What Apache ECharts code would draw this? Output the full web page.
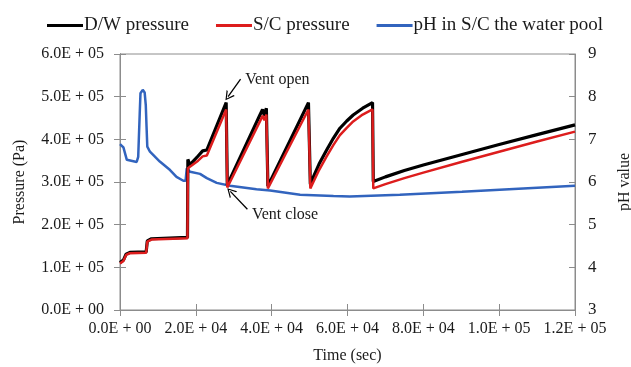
<!DOCTYPE html>
<html>
<head>
<meta charset="utf-8">
<script src="https://cdn.jsdelivr.net/npm/echarts@6/dist/echarts.min.js"></script>
<style>
  html, body { margin: 0; padding: 0; background: #fff; }
  #chart { width: 631px; height: 367px; }
</style>
</head>
<body>
<div id="chart"></div>
<script>
// D/W pressure (Pa) vs time (sec)
var dwTime = [0, 900, 1600, 2600, 6900, 7200, 8300, 17800, 17900, 18400, 20600, 21800, 22900, 28000,
  28300, 36900, 37600, 38100, 38600, 39000, 49700, 50200, 51000, 52500, 54500, 56300, 58000, 59800, 61500, 64000, 66600,
  66800, 70000, 75000, 80000, 90000, 100000, 110000, 120000];
var dwPressure = [111000, 117000, 131000, 135000, 136000, 162000, 167000, 170000, 353000, 340000, 361000, 373000, 375000, 486000,
  293000, 457000, 470000, 455000, 473000, 290000, 486000, 295000, 312000, 342000, 375000, 403000, 426000, 443000, 457000, 473000, 486000,
  301000, 312000, 327000, 340000, 364000, 388000, 411000, 434000];

// S/C pressure (Pa) vs time (sec)
var scTime = [0, 900, 1600, 2600, 6900, 7200, 8300, 17800, 17900, 20600, 21800, 22900, 28000,
  28300, 36900, 37600, 38100, 38600, 39000, 49700, 50200, 51000, 52500, 54500, 56300, 58000, 59800, 61500, 64000, 66600,
  66800, 70000, 75000, 80000, 90000, 100000, 110000, 120000];
var scPressure = [109000, 115000, 129000, 133000, 134000, 160000, 165000, 168000, 332000, 350000, 360000, 362000, 470000,
  287000, 442000, 455000, 445000, 458000, 285000, 470000, 285000, 300000, 328000, 360000, 387000, 410000, 427000, 442000, 458000, 470000,
  285000, 295000, 309000, 322000, 347000, 371000, 395000, 418000];

// pH in S/C the water pool vs time (sec)
var phTime = [0, 900, 1200, 1800, 2300, 4400, 4800, 5200, 5400, 6000, 6500, 6800, 7000, 7200, 7900,
  10500, 13200, 14900, 16700, 17300, 17600, 18500, 21100, 22900, 25500, 29000, 36000, 39600,
  47500, 56300, 60600, 73800, 90200, 120000];
var phValue = [6.89, 6.81, 6.77, 6.52, 6.48, 6.47, 6.59, 7.6, 8.08, 8.16, 8.10, 7.8, 7.3, 6.83, 6.71,
  6.48, 6.28, 6.12, 6.03, 6.03, 6.32, 6.24, 6.19, 6.09, 5.98, 5.91, 5.83, 5.80,
  5.70, 5.67, 5.66, 5.70, 5.77, 5.91];

var xTicks = { min: 0, max: 120000, interval: 20000 };
var pTicks = { min: 0, max: 600000, interval: 100000 };
var phTicks = { min: 3, max: 9, interval: 1 };

function zip(xs, ys) {
  return xs.map(function (x, i) { return [x, ys[i]]; });
}

// Excel style "6.0E + 05"
function sci(v) {
  if (v === 0) return '0.0E + 00';
  var e = Math.floor(Math.log10(v) + 1e-9);
  var m = (v / Math.pow(10, e)).toFixed(1);
  return m + 'E + ' + (e < 10 ? '0' + e : e);
}

var serif = '"Liberation Serif", "DejaVu Serif", serif';
var axisGray = '#8c8c8c';
var textCol = '#1a1a1a';
// open "V" arrow head like the hand drawn ones
var vArrow = 'path://M0,10L5,0L10,10L8.6,10L5,2.6L1.4,10Z';

function axisBase(extra) {
  var a = {
    type: 'value',
    axisLine: { show: true, lineStyle: { color: axisGray, width: 1 } },
    axisTick: { show: true, length: 6, lineStyle: { color: axisGray } },
    splitLine: { show: false },
    axisLabel: { color: textCol, fontFamily: serif, fontSize: 16 }
  };
  for (var k in extra) a[k] = extra[k];
  return a;
}

var myChart = echarts.init(document.getElementById('chart'));

var option = {
  animation: false,
  backgroundColor: '#fff',
  textStyle: { fontFamily: serif },
  grid: {
    left: 120, right: 56, top: 54, bottom: 57,
    outerBoundsMode: 'none',
    show: true, borderColor: axisGray, borderWidth: 1
  },
  legend: {
    top: 11,
    left: 42,
    itemGap: 27,
    itemWidth: 36,
    itemHeight: 3,
    icon: 'rect',
    textStyle: { fontFamily: serif, fontSize: 19, color: textCol, padding: [0, 0, 0, -4] },
    data: ['D/W pressure', 'S/C pressure', 'pH in S/C the water pool']
  },
  xAxis: [
    axisBase({
      min: xTicks.min, max: xTicks.max, interval: xTicks.interval, position: 'bottom',
      name: 'Time (sec)', nameLocation: 'middle', nameGap: 38,
      nameTextStyle: { color: textCol, fontFamily: serif, fontSize: 16 },
      axisLabel: { color: textCol, fontFamily: serif, fontSize: 16, margin: 11, formatter: sci }
    }),
    axisBase({
      min: xTicks.min, max: xTicks.max, interval: xTicks.interval, position: 'bottom',
      axisTick: { show: true, inside: true, length: 6, lineStyle: { color: axisGray } },
      axisLabel: { show: false }
    })
  ],
  yAxis: [
    axisBase({
      min: pTicks.min, max: pTicks.max, interval: pTicks.interval, position: 'left',
      name: 'Pressure (Pa)', nameLocation: 'middle', nameGap: 92, nameRotate: 90,
      nameTextStyle: { color: textCol, fontFamily: serif, fontSize: 16 },
      axisLabel: { color: textCol, fontFamily: serif, fontSize: 16, margin: 16, formatter: sci }
    }),
    axisBase({
      min: phTicks.min, max: phTicks.max, interval: phTicks.interval, position: 'right',
      name: 'pH value', nameLocation: 'middle', nameGap: 42, nameRotate: 90,
      nameTextStyle: { color: textCol, fontFamily: serif, fontSize: 16 },
      axisLabel: { color: textCol, fontFamily: serif, fontSize: 17, margin: 13 }
    }),
    axisBase({
      min: pTicks.min, max: pTicks.max, interval: pTicks.interval, position: 'left',
      axisTick: { show: true, inside: true, length: 6, lineStyle: { color: axisGray } },
      axisLabel: { show: false }
    }),
    axisBase({
      min: phTicks.min, max: phTicks.max, interval: phTicks.interval, position: 'right',
      axisTick: { show: true, inside: true, length: 6, lineStyle: { color: axisGray } },
      axisLabel: { show: false }
    })
  ],
  series: [
    {
      name: 'pH in S/C the water pool',
      type: 'line',
      yAxisIndex: 1,
      showSymbol: false,
      color: '#3264be',
      lineStyle: { width: 2.5, color: '#3264be' },
      data: zip(phTime, phValue),
      z: 2
    },
    {
      name: 'D/W pressure',
      type: 'line',
      yAxisIndex: 0,
      showSymbol: false,
      color: '#000',
      lineStyle: { width: 3.2, color: '#000' },
      data: zip(dwTime, dwPressure),
      z: 3,
      markPoint: {
        symbol: 'circle', symbolSize: 0,
        label: { show: true, position: 'right', distance: 0, color: textCol, fontFamily: serif, fontSize: 16 },
        data: [
          { coord: [33000, 539000], label: { formatter: 'Vent open' } },
          { coord: [34800, 222000], label: { formatter: 'Vent close' } }
        ]
      },
      markLine: {
        silent: true,
        symbol: ['none', vArrow],
        symbolSize: [10, 9],
        lineStyle: { type: 'solid', color: '#000', width: 1.3 },
        label: { show: false },
        data: [
          [{ coord: [31800, 541000] }, { coord: [28500, 500000] }],
          [{ coord: [33600, 236000] }, { coord: [29100, 278000] }]
        ]
      }
    },
    {
      name: 'S/C pressure',
      type: 'line',
      yAxisIndex: 0,
      showSymbol: false,
      color: '#dd1d1d',
      lineStyle: { width: 2.5, color: '#dd1d1d' },
      data: zip(scTime, scPressure),
      z: 4
    }
  ]
};

myChart.setOption(option);
</script>
</body>
</html>
